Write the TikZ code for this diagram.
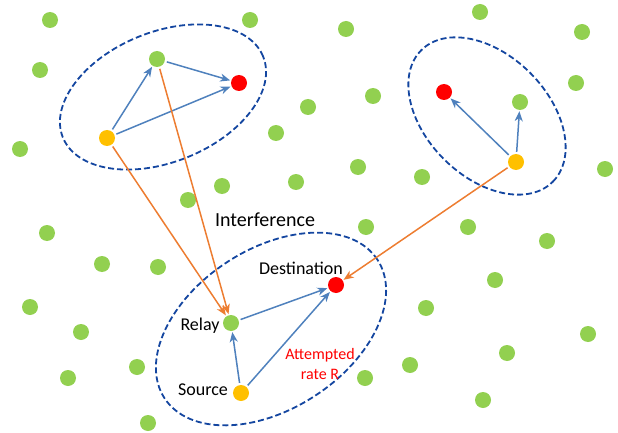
\documentclass[tikz,border=0pt]{standalone}
\usepackage{fontspec}
\setmainfont{Carlito}
\usetikzlibrary{arrows.meta}
\definecolor{dotgreen}{RGB}{146,208,80}
\definecolor{dotred}{RGB}{255,0,0}
\definecolor{dotorange}{RGB}{255,192,0}
\definecolor{arrorange}{RGB}{237,125,49}
\definecolor{arrblue}{RGB}{79,129,189}
\definecolor{ellblue}{RGB}{20,70,160}
\begin{document}
\begin{tikzpicture}[x=1pt,y=-1pt,
  gdot/.style={circle,minimum size=16pt,inner sep=0pt,fill=dotgreen},
  rdot/.style={circle,minimum size=16pt,inner sep=0pt,fill=dotred},
  odot/.style={circle,minimum size=16pt,inner sep=0pt,fill=dotorange},
  ell/.style={draw=ellblue,line width=1.8pt,dash pattern=on 6pt off 3pt},
  barr/.style={draw=arrblue,line width=1.5pt,-{Stealth[length=10pt,width=8pt,inset=3pt]},shorten <=2pt,shorten >=1pt},
  oarr/.style={draw=arrorange,line width=1.5pt,-{Stealth[length=10pt,width=8pt,inset=3pt]},shorten <=2pt,shorten >=1pt},
  lbl/.style={font=\fontsize{18}{20}\selectfont,text=black,inner sep=0pt},
  rlbl/.style={font=\fontsize{16}{20}\selectfont,text=dotred,inner sep=0pt,align=center}]
\useasboundingbox (0,0) rectangle (618,433);
% ellipses
\draw[ell, rotate around={22:(163,97)}] (163,97) ellipse [x radius=108pt, y radius=65pt];
\draw[ell, rotate around={-45:(487,116)}] (487,116) ellipse [x radius=93pt, y radius=61pt];
\draw[ell, rotate around={33:(271,329)}] (271,329) ellipse [x radius=127pt, y radius=80pt];
% background green dots
\foreach \x/\y [count=\i] in {50/20,250/20,480/12,346/29,582/32,40/70,576/83,373/96,308/107,276/133,20/149,358/167,422/177,605/169,296/182,222/186,188/200,47/233,366/227,468/227,547/241,102/264,158/267,495/280,30/307,426/308,81/332,588/334,507/353,137/367,410/365,68/378,365/378,483/400,148/423}
  \node[gdot] (g\i) at (\x,\y) {};
% top-left cluster
\node[odot] (tlS) at (107,138) {};
\node[gdot] (tlR) at (157,59) {};
\node[rdot] (tlD) at (239,83) {};
% top-right cluster
\node[odot] (trS) at (516,162) {};
\node[gdot] (trR) at (520,102) {};
\node[rdot] (trD) at (444,92) {};
% main cluster
\node[odot] (src) at (241,393) {};
\node[gdot] (rly) at (231,323) {};
\node[rdot] (dst) at (336,285) {};
% blue arrows
\draw[barr] (tlS) -- (tlR);
\draw[barr] (tlS) -- (tlD);
\draw[barr] (tlR) -- (tlD);
\draw[barr] (trS) -- (trD);
\draw[barr] (trS) -- (trR);
\draw[barr] (src) -- (rly);
\draw[barr] (src) -- (dst);
\draw[barr] (rly) -- (dst);
% orange arrows
\draw[oarr] (tlS) -- (rly);
\draw[oarr] (tlR) -- (rly);
\draw[oarr] (trS) -- (dst);
% labels
\node[lbl,font=\fontsize{20}{22}\selectfont] (intf) at (265,220) {Interference};
\node[lbl] (ldst) at (301,268) {Destination};
\node[lbl] (lrly) at (200,326) {Relay};
\node[lbl] (lsrc) at (203,390) {Source};
\node[rlbl] (lrate) at (320,364) {Attempted\\rate R};
\end{tikzpicture}
\end{document}
